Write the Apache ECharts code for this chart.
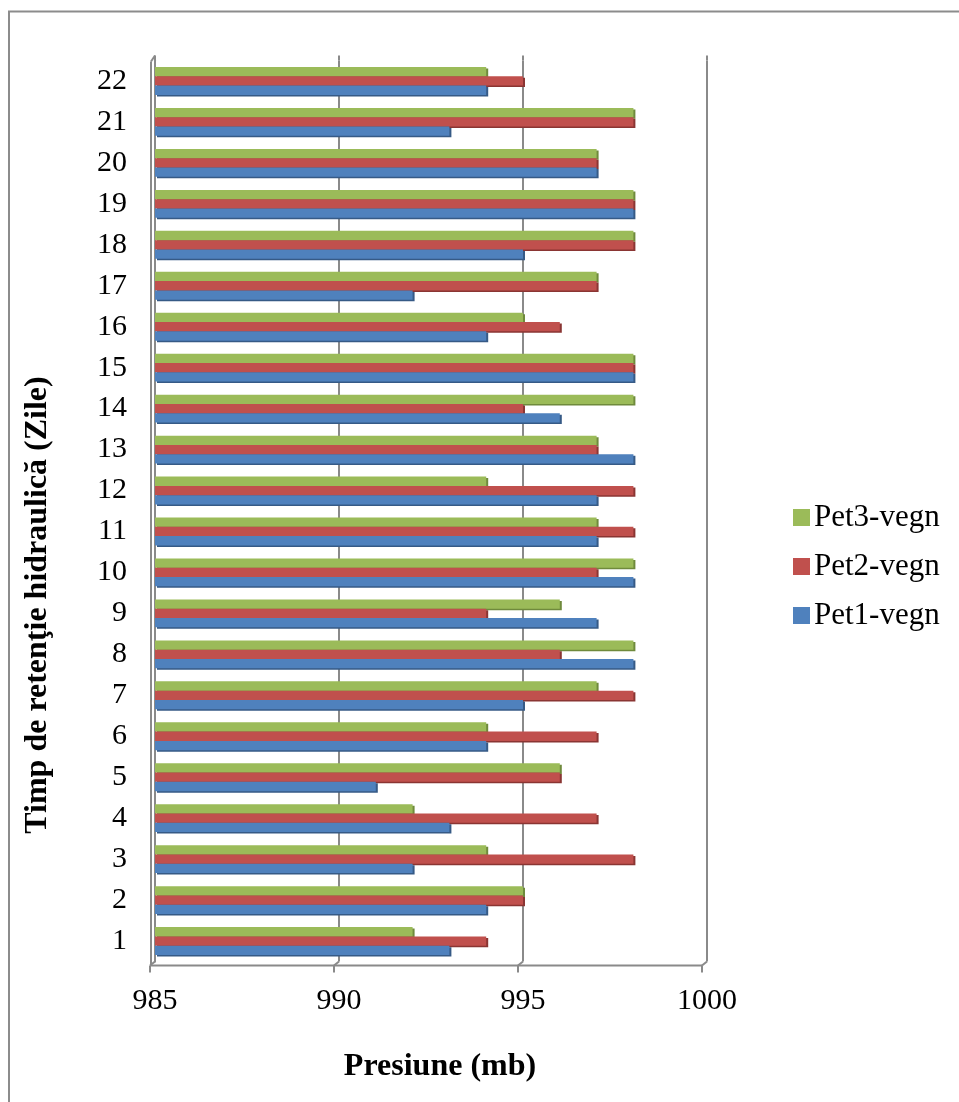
<!DOCTYPE html>
<html>
<head>
<meta charset="utf-8">
<title>Presiune – Timp de retenţie hidraulică</title>
<script src="https://cdn.jsdelivr.net/npm/echarts@6/dist/echarts.min.js"></script>
<style>
  html, body { margin: 0; padding: 0; background: #ffffff; }
  #chart { width: 959px; height: 1102px; }
</style>
</head>
<body>
<div id="chart"></div>
<script>
// Hydraulic retention time (days) on the category axis
const days = ['1','2','3','4','5','6','7','8','9','10','11','12','13','14','15','16','17','18','19','20','21','22'];

// Pressure readings (mb) per day for each reactor
const pet1 = [993, 994, 992, 993, 991, 994, 995, 998, 997, 998, 997, 997, 998, 996, 998, 994, 992, 995, 998, 997, 993, 994];
const pet2 = [994, 995, 998, 997, 996, 997, 998, 996, 994, 997, 998, 998, 997, 995, 998, 996, 997, 998, 998, 997, 998, 995];
const pet3 = [992, 995, 994, 992, 996, 994, 997, 998, 996, 998, 997, 994, 997, 998, 998, 995, 997, 998, 998, 997, 998, 994];

const pressureTicks = [985, 990, 995, 1000];

const SERIF = "'Liberation Serif', 'Times New Roman', serif";
const GRID = { left: 155, right: 252, top: 60.5, bottom: 140.5 };
const AXIS_GREY = '#8a8a8a';

const chart = echarts.init(document.getElementById('chart'), null, { renderer: 'canvas' });

function barSeries(name, data, color, edge) {
  return {
    name: name,
    type: 'bar',
    data: data,
    barGap: '0%',
    barCategoryGap: '32%',
    itemStyle: {
      color: color,
      shadowColor: edge,
      shadowBlur: 0,
      shadowOffsetX: 2,
      shadowOffsetY: 1.5
    },
    emphasis: { disabled: true }
  };
}

chart.setOption({
  animation: false,
  backgroundColor: '#ffffff',
  grid: GRID,
  legend: {
    orient: 'vertical',
    left: 788,
    top: 497,
    itemWidth: 17,
    itemHeight: 17,
    itemGap: 18,
    icon: 'rect',
    data: ['Pet3-vegn', 'Pet2-vegn', 'Pet1-vegn'],
    textStyle: { fontFamily: SERIF, fontSize: 31, color: '#000000', padding: [0, 0, 0, -1] }
  },
  xAxis: {
    type: 'value',
    min: pressureTicks[0],
    max: pressureTicks[pressureTicks.length - 1],
    interval: pressureTicks[1] - pressureTicks[0],
    name: 'Presiune (mb)',
    nameLocation: 'middle',
    nameGap: 89,
    nameTextStyle: { fontFamily: SERIF, fontSize: 32, fontWeight: 'bold', color: '#000000', padding: [0, 0, 0, 18] },
    axisLine: { show: false },
    axisTick: { show: false },
    axisLabel: { fontFamily: SERIF, fontSize: 30, color: '#000000', margin: 25, formatter: v => String(v) },
    splitLine: { show: true, lineStyle: { color: AXIS_GREY, width: 2 } }
  },
  yAxis: {
    type: 'category',
    data: days,
    axisLine: { show: true, lineStyle: { color: AXIS_GREY, width: 2 } },
    axisTick: { show: false },
    axisLabel: { fontFamily: SERIF, fontSize: 30, color: '#000000', margin: 28 },
    splitLine: { show: false }
  },
  // first series sits at the top of each day's group
  series: [
    barSeries('Pet3-vegn', pet3, '#9bbb59', '#6f8a3c'),
    barSeries('Pet2-vegn', pet2, '#c0504d', '#8a3533'),
    barSeries('Pet1-vegn', pet1, '#4f81bd', '#365a86')
  ]
});

// Floor, side wall and outer frame of the plot box, placed from the axis scale
const H = chart.getHeight();
const bottomY = H - GRID.bottom;
const topY = GRID.top;
const xp = v => chart.convertToPixel({ xAxisIndex: 0 }, v);
const grey = { stroke: AXIS_GREY, lineWidth: 2 };

const deco = [];
function seg(x1, y1, x2, y2) {
  deco.push({ type: 'line', silent: true, z: 5, shape: { x1: x1, y1: y1, x2: x2, y2: y2 }, style: grey });
}

const x0 = xp(pressureTicks[0]);
const x1 = xp(pressureTicks[pressureTicks.length - 1]);
// front edge of the floor
seg(x0 - 4, bottomY + 4, x1 - 5, bottomY + 4);
pressureTicks.forEach(v => {
  const gx = xp(v);
  seg(gx, bottomY, gx - 5, bottomY + 4);          // floor diagonal
  seg(gx - 5, bottomY + 4, gx - 5, bottomY + 11); // front tick
  seg(gx, topY, gx, topY - 5);                    // gridline top
});
// side wall
seg(x0 - 4, topY + 1, x0 - 4, bottomY + 4);
seg(x0 - 4, topY + 1, x0, topY - 5);

// outer frame (top and left edges fall inside the page)
deco.push({
  type: 'rect', silent: true, z: 0,
  shape: { x: 9, y: 11.5, width: 1100, height: 1200 },
  style: { fill: null, stroke: '#8c8c8c', lineWidth: 2 }
});

// rotated category axis title
deco.push({
  type: 'text', silent: true, z: 10,
  x: 38, y: 605, rotation: Math.PI / 2,
  style: {
    text: 'Timp de retenţie hidraulică (Zile)',
    font: 'bold 32px ' + SERIF,
    fill: '#000000',
    align: 'center',
    verticalAlign: 'middle'
  }
});

chart.setOption({ graphic: deco });
</script>
</body>
</html>
